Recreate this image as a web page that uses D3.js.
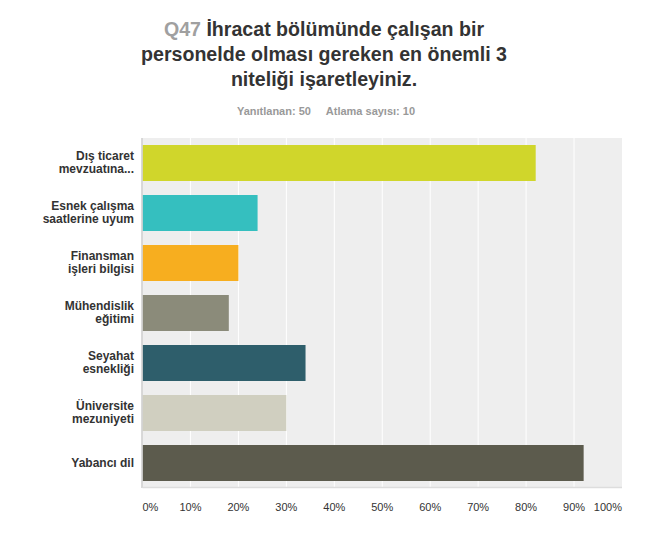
<!DOCTYPE html>
<html><head><meta charset="utf-8">
<script src="https://cdn.jsdelivr.net/npm/d3@7"></script>
<style>
body{margin:0;background:#fff;font-family:"Liberation Sans",Arial,sans-serif;}
</style></head>
<body><svg id="c" width="650" height="558"></svg>
<script>
const categories = [["Dış ticaret","mevzuatına..."],["Esnek çalışma","saatlerine uyum"],["Finansman","işleri bilgisi"],["Mühendislik","eğitimi"],["Seyahat","esnekliği"],["Üniversite","mezuniyeti"],["Yabancı dil"]];
const values = [82,24,20,18,34,30,92];
const colors = ["#d0d62b","#35bfbf","#f7ae1f","#8b8b7a","#2e5e6b","#d0cfc0","#5c5b4d"];
const ticks = [0,10,20,30,40,50,60,70,80,90,100];
const titleLines = ["İhracat bölümünde çalışan bir","personelde olması gereken en önemli 3","niteliği işaretleyiniz."];

(function(){
const svg = d3.select("#c");
const pL=142.5, pR=622, pT=138, pB=488;
const x = d3.scaleLinear().domain([0,100]).range([pL,pR]);
const y = d3.scaleBand().domain(d3.range(categories.length)).range([pT,pB]).paddingInner(0.28).paddingOuter(0.14);

// title
titleLines.forEach((l,i)=>{
  const t = svg.append("text").attr("x",324).attr("y",36+i*25).attr("text-anchor","middle")
    .attr("font-size","19.6px").attr("font-weight","bold").attr("fill","#333");
  if(i===0) t.append("tspan").attr("fill","#a0a0a0").text("Q47 ");
  t.append("tspan").text(l);
});
svg.append("text").attr("x",326).attr("y",115).attr("text-anchor","middle").attr("font-size","11px").attr("font-weight","bold").attr("fill","#999")
  .attr("xml:space","preserve").text("Yanıtlanan: 50     Atlama sayısı: 10");

// plot bg
svg.append("rect").attr("x",pL).attr("y",pT).attr("width",pR-pL).attr("height",pB-pT-1).attr("fill","#eeeeee");
// grid
svg.selectAll(".g").data(ticks.slice(1,-1)).enter().append("line")
  .attr("x1",d=>x(d)).attr("x2",d=>x(d)).attr("y1",pT).attr("y2",pB-1).attr("stroke","#fff").attr("stroke-width",1);
// bars
svg.selectAll(".b").data(values).enter().append("rect")
  .attr("x",x(0)).attr("y",(d,i)=>y(i)).attr("width",d=>x(d)-x(0)).attr("height",y.bandwidth()).attr("fill",(d,i)=>colors[i]);
// axis lines
svg.append("line").attr("x1",pL-0.5).attr("x2",pL-0.5).attr("y1",pT).attr("y2",pB).attr("stroke","#cccccc").attr("stroke-width",1.5);
svg.append("line").attr("x1",pL).attr("x2",pR).attr("y1",pB-0.5).attr("y2",pB-0.5).attr("stroke","#dddddd").attr("stroke-width",1.5);

// x tick labels
svg.selectAll(".xt").data(ticks).enter().append("text")
  .attr("x",d=>x(d)).attr("y",511).attr("font-size","11px").attr("fill","#333")
  .attr("text-anchor",(d,i)=>i===0?"start":(i===ticks.length-1?"end":"middle"))
  .text(d=>d+"%");

// y labels
categories.forEach((c,i)=>{
  const cy = y(i)+y.bandwidth()/2;
  const t = svg.append("text").attr("x",134).attr("text-anchor","end").attr("font-size","12px").attr("font-weight","bold").attr("fill","#333");
  if(c.length===1){ t.attr("y",cy+3.5).text(c[0]); }
  else { c.forEach((s,j)=>t.append("tspan").attr("x",134).attr("y",cy-3.5+j*13.4).text(s)); }
});
})();
</script></body></html>
